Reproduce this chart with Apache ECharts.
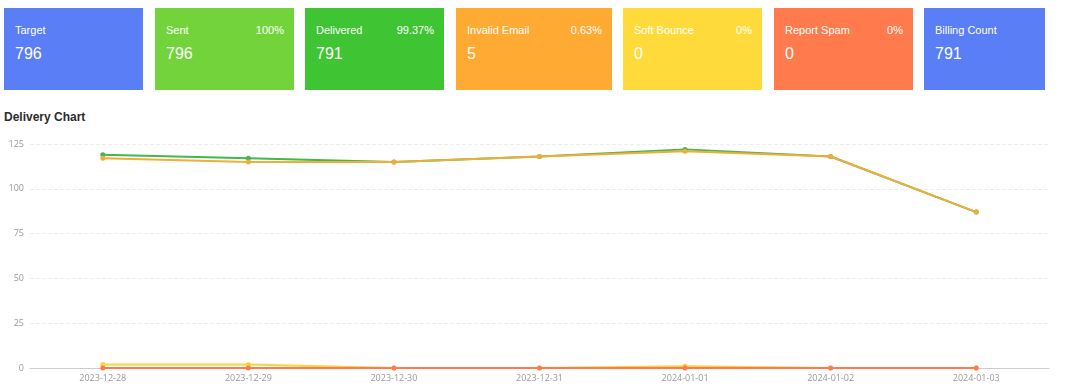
<!DOCTYPE html>
<html>
<head>
<meta charset="utf-8">
<script src="https://cdn.jsdelivr.net/npm/echarts@6/dist/echarts.min.js"></script>
<style>
html,body{margin:0;padding:0;width:1080px;height:389px;overflow:hidden;background:#fff;font-family:Arial,"Liberation Sans",sans-serif;}
.card{position:absolute;top:8px;height:82px;color:#fff;}
.card .t{position:absolute;left:11px;top:16px;font-size:11px;}
.card .p{position:absolute;right:10px;top:16px;font-size:11px;}
.card .v{position:absolute;left:11px;top:37px;font-size:16px;}
#title{position:absolute;left:4px;top:110px;font-size:12px;font-weight:bold;color:#2c2c2c;}
#chart{position:absolute;left:0;top:124px;width:1080px;height:265px;}
</style>
</head>
<body>
<div id="cards"></div>
<div id="title">Delivery Chart</div>
<div id="chart"></div>
<script>
var cardTitles = ['Target','Sent','Delivered','Invalid Email','Soft Bounce','Report Spam','Billing Count'];
var cardValues = ['796','796','791','5','0','0','791'];
var cardPercents = ['','100%','99.37%','0.63%','0%','0%',''];
var cardColors = ['#5a7ef5','#72d43a','#3fc433','#ffaa33','#fedb3b','#ff7a4c','#5a7ef5'];
var cardLefts = [4,155,305,456,623,774,924];
var cardWidths = [139,139,139,156,139,139,121];

var categories = ['2023-12-28','2023-12-29','2023-12-30','2023-12-31','2024-01-01','2024-01-02','2024-01-03'];
var sentValues = [119,117,115,118,122,118,87];
var deliveredValues = [117,115,115,118,121,118,87];
var invalidValues = [2,2,0,0,1,0,0];
var spamValues = [0,0,0,0,0,0,0];
var yTicks = [0,25,50,75,100,125];

var html='';
for(var i=0;i<cardTitles.length;i++){
  html+='<div class="card" style="left:'+cardLefts[i]+'px;width:'+cardWidths[i]+'px;background:'+cardColors[i]+'">'+
    '<div class="t">'+cardTitles[i]+'</div>'+
    (cardPercents[i]?'<div class="p">'+cardPercents[i]+'</div>':'')+
    '<div class="v">'+cardValues[i]+'</div></div>';
}
document.getElementById('cards').innerHTML=html;

var chart = echarts.init(document.getElementById('chart'));
function line(name,data,color){
  return {name:name,type:'line',data:data,symbol:'circle',symbolSize:5,
    lineStyle:{width:2,color:color},itemStyle:{color:color}};
}
chart.setOption({
  animation:false,
  grid:{left:30,right:31,top:20,bottom:21,containLabel:false,outerBoundsMode:'none'},
  xAxis:{type:'category',data:categories,boundaryGap:true,
    axisLine:{lineStyle:{color:'#cccccc'}},axisTick:{show:false},
    axisLabel:{color:'#999',fontSize:9,margin:6,fontFamily:'Open Sans'}},
  yAxis:{type:'value',min:0,max:125,interval:25,
    axisLabel:{color:'#999',fontSize:9,margin:6,fontFamily:'Open Sans'},
    splitLine:{lineStyle:{color:'#eeeeee',type:'dashed'}}},
  series:[
    line('Sent',sentValues,'#40b84c'),
    line('Delivered',deliveredValues,'#f0ad3a'),
    line('Invalid Email',invalidValues,'#fdd33a'),
    line('Report Spam',spamValues,'#ff7a4c')
  ]
});
</script>
</body>
</html>
